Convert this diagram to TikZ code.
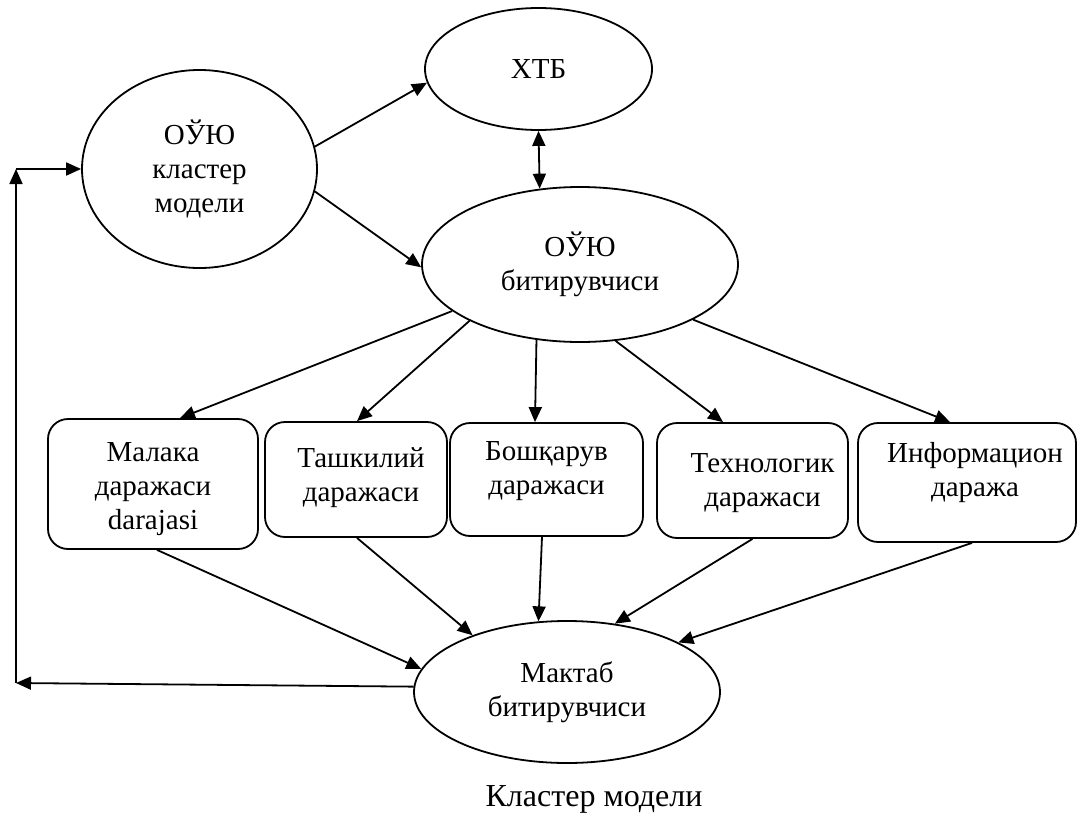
\documentclass[tikz,border=0pt]{standalone}
\usepackage{fontspec}
\setmainfont{Liberation Serif}
\usetikzlibrary{shapes.geometric,arrows.meta}
\begin{document}
\begin{tikzpicture}[x=1pt,y=-1pt,
 every node/.style={font=\fontsize{29}{34}\selectfont},
 ell/.style={draw,ellipse,line width=1.8pt,inner sep=0pt,align=center},
 box/.style={draw,rounded corners=20pt,line width=1.8pt,inner sep=0pt},
 lbl/.style={align=center,inner sep=0pt},
 arr/.style={line width=1.8pt,-{Triangle[length=15pt,width=13pt]}},
 darr/.style={line width=1.8pt,{Triangle[length=15pt,width=13pt]}-{Triangle[length=15pt,width=13pt]}}]
\useasboundingbox (0,0) rectangle (1079,816);
\node[ell,minimum width=227pt,minimum height=122pt] (xtb) at (538.5,69) {\raisebox{-3pt}{ХТБ}};
\node[ell,minimum width=235pt,minimum height=198pt] (k) at (199.5,169) {ОЎЮ\\кластер\\модели};
\node[ell,minimum width=316pt,minimum height=155pt] (ob) at (580,264.5) {ОЎЮ\\битирувчиси};
\node[ell,minimum width=306pt,minimum height=142pt] (m) at (567,692) {Мактаб\\битирувчиси};
\node[box,minimum width=210pt,minimum height=130pt] (b1) at (153,484) {};
\node[lbl] (t1) at (153,489) {Малака\\даражаси\\darajasi};
\node[box,minimum width=182pt,minimum height=115pt] (b2) at (356,479.5) {};
\node[lbl] (t2) at (361,478) {Ташкилий\\даражаси};
\node[box,minimum width=193pt,minimum height=113pt] (b3) at (546.5,479.5) {};
\node[lbl] (t3) at (546.5,471) {Бошқарув\\даражаси};
\node[box,minimum width=191pt,minimum height=115pt] (b4) at (752.5,480.5) {};
\node[lbl] (t4) at (762.5,483) {Технологик\\даражаси};
\node[box,minimum width=218pt,minimum height=119pt] (b5) at (967,482.5) {};
\node[lbl] (t5) at (975,473) {Информацион\\даража};
\node[font=\fontsize{32}{36}\selectfont] (cap) at (594,799) {Кластер модели};
\draw[arr] (k.11) -- (xtb.187);
\draw[arr] (k.349) -- (ob.181);
\draw[darr] (xtb.south) -- (ob.118);
\draw[arr] (ob.200) -- ([xshift=27pt]b1.north);
\draw[arr] (ob.207) -- ([xshift=1pt]b2.north);
\draw[arr] (ob.240) -- ([xshift=-11.5pt]b3.north);
\draw[arr] (ob.295) -- ([xshift=-29.5pt]b4.north);
\draw[arr] (ob.334) -- ([xshift=-17pt]b5.north);
\draw[arr] ([xshift=4pt]b1.south) -- (m.171);
\draw[arr] ([xshift=1pt]b2.south) -- (m.149);
\draw[arr] ([xshift=-4.5pt]b3.south) -- (m.112);
\draw[arr] (b4.south) -- (m.55);
\draw[arr] ([xshift=5pt]b5.south) -- (m.24);
\coordinate (cb) at (16,683);
\coordinate (ct) at (16,169);
\draw[arr] (m.178) -- (cb);
\draw[arr] (cb) -- (ct);
\draw[arr] (ct) -- (k.west);
\end{tikzpicture}
\end{document}
